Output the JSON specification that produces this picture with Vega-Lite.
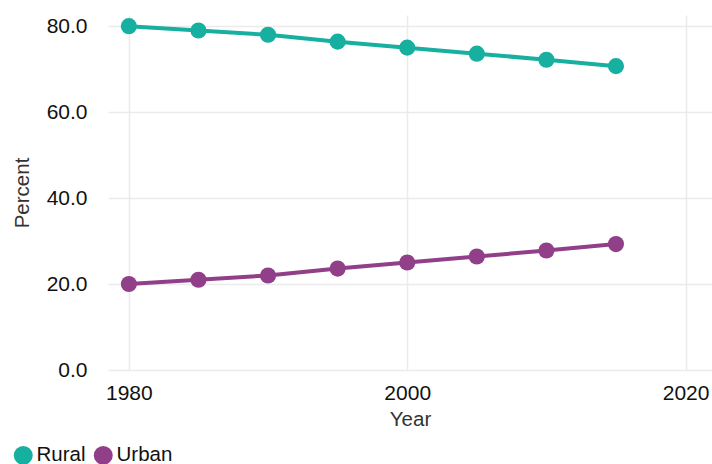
{
  "$schema": "https://vega.github.io/schema/vega-lite/v6.json",
  "width": 604,
  "height": 355,
  "autosize": {"type": "none"},
  "padding": {"left": 108, "top": 15, "right": 0, "bottom": 94},
  "background": "white",
  "config": {
    "view": {"stroke": null},
    "font": "Liberation Sans",
    "axis": {
      "domain": false,
      "ticks": false,
      "gridColor": "#ebebeb",
      "gridWidth": 1.5,
      "labelFont": "Liberation Sans",
      "labelFontSize": 21,
      "labelColor": "#111111",
      "titleFont": "Liberation Sans",
      "titleFontSize": 20.5,
      "titleFontWeight": "normal",
      "titleColor": "#333333"
    }
  },
  "data": {
    "values": [
      {"Year": 1980, "Area": "Rural", "Percent": 80.0},
      {"Year": 1985, "Area": "Rural", "Percent": 79.0},
      {"Year": 1990, "Area": "Rural", "Percent": 78.0},
      {"Year": 1995, "Area": "Rural", "Percent": 76.4},
      {"Year": 2000, "Area": "Rural", "Percent": 75.0},
      {"Year": 2005, "Area": "Rural", "Percent": 73.6},
      {"Year": 2010, "Area": "Rural", "Percent": 72.2},
      {"Year": 2015, "Area": "Rural", "Percent": 70.7},
      {"Year": 1980, "Area": "Urban", "Percent": 20.0},
      {"Year": 1985, "Area": "Urban", "Percent": 21.0},
      {"Year": 1990, "Area": "Urban", "Percent": 22.0},
      {"Year": 1995, "Area": "Urban", "Percent": 23.6},
      {"Year": 2000, "Area": "Urban", "Percent": 25.0},
      {"Year": 2005, "Area": "Urban", "Percent": 26.4},
      {"Year": 2010, "Area": "Urban", "Percent": 27.8},
      {"Year": 2015, "Area": "Urban", "Percent": 29.3}
    ]
  },
  "encoding": {
    "x": {
      "field": "Year",
      "type": "quantitative",
      "scale": {"domain": [1978.5, 2021.9], "nice": false, "zero": false},
      "axis": {"values": [1980, 2000, 2020], "format": "d", "labelPadding": 12, "title": "Year", "titlePadding": 6}
    },
    "y": {
      "field": "Percent",
      "type": "quantitative",
      "scale": {"domain": [0, 82.6], "nice": false},
      "axis": {"values": [0, 20, 40, 60, 80], "format": ".1f", "labelPadding": 21, "title": "Percent", "titlePadding": 14}
    },
    "color": {
      "field": "Area",
      "type": "nominal",
      "scale": {"domain": ["Rural", "Urban"], "range": ["#17b0a0", "#913f88"]},
      "legend": {
        "title": null,
        "orient": "none",
        "legendX": -95,
        "legendY": 430,
        "direction": "horizontal",
        "symbolType": "circle",
        "symbolSize": 360,
        "symbolOpacity": 1,
        "symbolStrokeWidth": 0,
        "labelFont": "Liberation Sans",
        "labelFontSize": 20.5,
        "labelColor": "#111111",
        "labelOffset": 3,
        "columnPadding": 7,
        "padding": 0
      }
    }
  },
  "layer": [
    {"mark": {"type": "line", "strokeWidth": 4}},
    {"mark": {"type": "point", "filled": true, "size": 260, "opacity": 1}}
  ]
}
